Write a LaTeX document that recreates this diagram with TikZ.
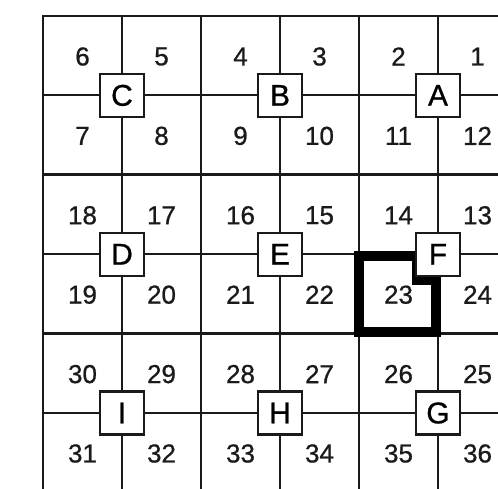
\documentclass[tikz,border=0pt]{standalone}
\usepackage{fontspec}
\setmainfont{Liberation Sans}
\newfontfamily\gridfont{Liberation Sans}[FakeBold=0.8]
\usepackage{xcolor}
\definecolor{cInk}{HTML}{1A1A1A}
\usepackage{tikz}
\tikzset{
  grid-minor/.style={draw=cInk,line width=2.2pt,line cap=rect},
  grid-major/.style={draw=cInk,line width=2.8pt,line cap=rect},
  node-block/.style={draw=cInk,line width=2.2pt,fill=white,inner sep=0pt,
    minimum width=44pt,minimum height=43pt,font=\gridfont\fontsize{30}{30}\selectfont},
  node-cell/.style={inner sep=0pt,text=cInk,font=\gridfont\fontsize{26}{26}\selectfont},
  % the marked cell: a heavy frame that steps round box F
  path-mark/.style={draw=black,line width=10pt,miter limit=10},
}

\begin{document}
\begin{tikzpicture}[x=1pt,y=-1pt]
  \useasboundingbox (0,0) rectangle (498,489);
  \clip (0,0) rectangle (498,489);
  % lines inside each 2x2 block
  \foreach \c in {1,3,5} \draw[grid-minor] ({43+79*\c},16) -- ({43+79*\c},540);
  \foreach \r in {1,3,5} \draw[grid-minor] (43,{16+79.4*\r}) -- (540,{16+79.4*\r});
  % block borders
  \foreach \c in {0,2,4,6} \draw[grid-major] ({43+79*\c},16) -- ({43+79*\c},540);
  \foreach \r in {0,2,4,6} \draw[grid-major] (43,{16+79.4*\r}) -- (540,{16+79.4*\r});
  \draw[path-mark] (359,256) -- (417,256) -- (417,280) -- (436,280) -- (436,332) -- (359,332) -- cycle;
  \foreach \l/\i/\j in {C/0/0,B/1/0,A/2/0,D/0/1,E/1/1,F/2/1,I/0/2,H/1/2,G/2/2}
    \node[node-block] (\l) at ({122+158*\i},{95.4+158.8*\j}) {\l};
  \foreach \r in {0,...,5}
    \foreach \c in {0,...,5}{
      \pgfmathtruncatemacro{\num}{6*\r+ifthenelse(mod(\r,2)==0,6-\c,\c+1)}
      \node[node-cell] (n\num) at ({82.5+79*\c},{56.5+79.4*\r}) {\num};
    }
\end{tikzpicture}
\end{document}
